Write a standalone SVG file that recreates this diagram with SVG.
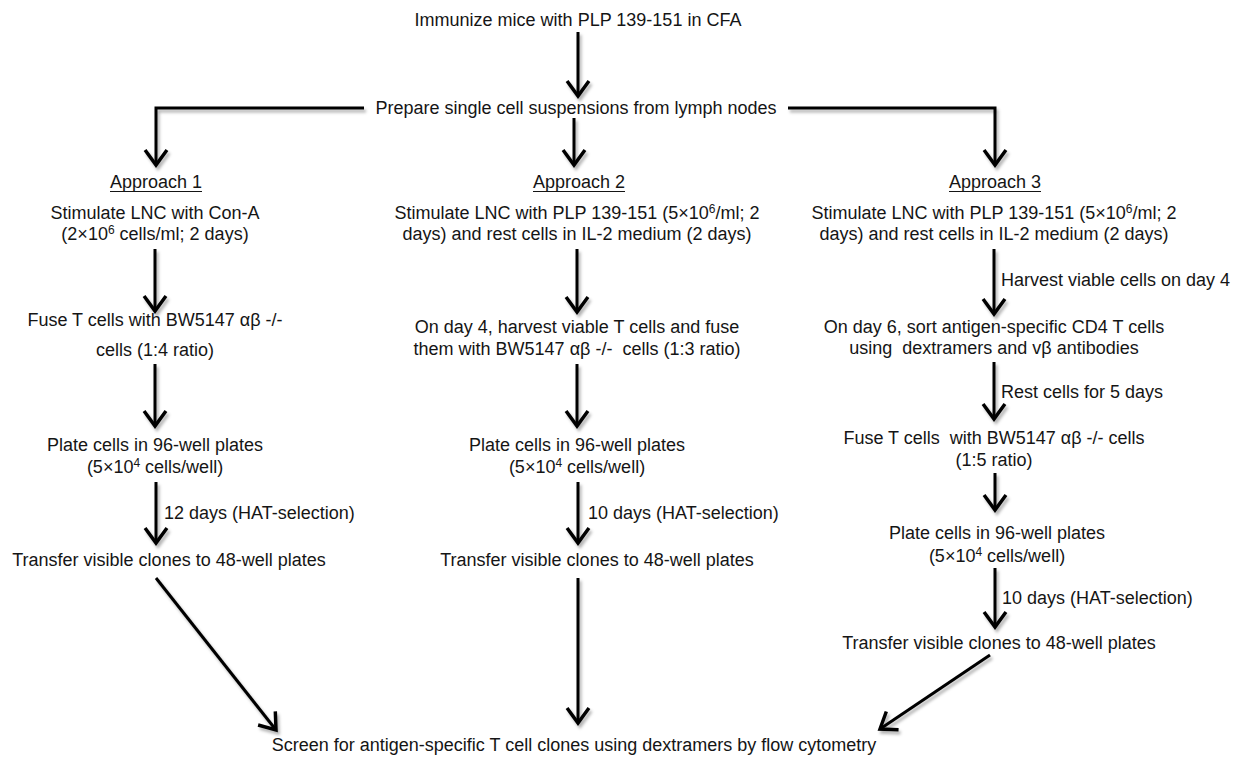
<svg xmlns="http://www.w3.org/2000/svg" width="1248" height="758" viewBox="0 0 1248 758">
<style>
text{font-family:"Liberation Sans",Arial,Helvetica,sans-serif;font-size:18px;fill:#151515;white-space:pre;}
.c{text-anchor:middle;}
.l{text-anchor:start;}
.sup{font-size:12px;}
.conn{fill:none;stroke:#000;stroke-width:3;}
.ul{stroke:#151515;stroke-width:1.2;}
</style>
<defs>
<marker id="arr" markerUnits="userSpaceOnUse" markerWidth="30" markerHeight="30" viewBox="-16 -13 20 26" refX="0" refY="0" orient="auto">
<path d="M-13,-9.5 L0,0 L-13,9.5" fill="none" stroke="#000" stroke-width="3"/>
</marker>
<filter id="sh" x="-20%" y="-20%" width="140%" height="140%">
<feDropShadow dx="2" dy="3" stdDeviation="1.8" flood-color="#000" flood-opacity="0.3"/>
</filter>
</defs>

<g id="connectors" filter="url(#sh)">
<path class="conn" d="M578,32 V96" marker-end="url(#arr)"/>
<path class="conn" d="M364,108 H156 V165" marker-end="url(#arr)"/>
<path class="conn" d="M788,108 H995 V165" marker-end="url(#arr)"/>
<path class="conn" d="M574,118 V165" marker-end="url(#arr)"/>
<path class="conn" d="M155,249 V311" marker-end="url(#arr)"/>
<path class="conn" d="M155,364 V426" marker-end="url(#arr)"/>
<path class="conn" d="M156,482 V543" marker-end="url(#arr)"/>
<path class="conn" d="M156,578 L276,730" marker-end="url(#arr)"/>
<path class="conn" d="M577,249 V312" marker-end="url(#arr)"/>
<path class="conn" d="M577,364 V426" marker-end="url(#arr)"/>
<path class="conn" d="M578,482 V543" marker-end="url(#arr)"/>
<path class="conn" d="M578,578 V723" marker-end="url(#arr)"/>
<path class="conn" d="M994,249 V314" marker-end="url(#arr)"/>
<path class="conn" d="M994,362 V419" marker-end="url(#arr)"/>
<path class="conn" d="M995,473 V510" marker-end="url(#arr)"/>
<path class="conn" d="M995,568 V627" marker-end="url(#arr)"/>
<path class="conn" d="M990,655 L880,729" marker-end="url(#arr)"/>
</g>

<g id="n-immunize"><text class="c" x="578" y="26">Immunize mice with PLP 139-151 in CFA</text></g>
<g id="n-prepare"><text class="c" x="576" y="114">Prepare single cell suspensions from lymph nodes</text></g>

<g id="n-approach1"><text class="c" x="156" y="188">Approach 1</text><line class="ul" x1="110" y1="191.5" x2="202" y2="191.5"/></g>
<g id="n-approach2"><text class="c" x="579" y="188">Approach 2</text><line class="ul" x1="533" y1="191.5" x2="625" y2="191.5"/></g>
<g id="n-approach3"><text class="c" x="995" y="188">Approach 3</text><line class="ul" x1="949" y1="191.5" x2="1041" y2="191.5"/></g>

<g id="n-a1-stim"><text class="c" x="155" y="219">Stimulate LNC with Con-A</text>
<text class="c" x="155" y="240">(2×10<tspan class="sup" dy="-6">6</tspan><tspan dy="6"> cells/ml; 2 days)</tspan></text></g>
<g id="n-a1-fuse"><text class="c" x="155" y="326">Fuse T cells with BW5147 αβ -/-</text>
<text class="c" x="155" y="356">cells (1:4 ratio)</text></g>
<g id="n-a1-plate"><text class="c" x="155" y="451">Plate cells in 96-well plates</text>
<text class="c" x="155" y="473">(5×10<tspan class="sup" dy="-6">4</tspan><tspan dy="6"> cells/well)</tspan></text></g>
<g id="n-a1-label"><text class="l" x="164" y="519">12 days (HAT-selection)</text></g>
<g id="n-a1-transfer"><text class="c" x="169" y="566">Transfer visible clones to 48-well plates</text></g>

<g id="n-a2-stim"><text class="c" x="577" y="219">Stimulate LNC with PLP 139-151 (5×10<tspan class="sup" dy="-6">6</tspan><tspan dy="6">/ml; 2</tspan></text>
<text class="c" x="577" y="240">days) and rest cells in IL-2 medium (2 days)</text></g>
<g id="n-a2-fuse"><text class="c" x="577" y="333">On day 4, harvest viable T cells and fuse</text>
<text class="c" x="577" y="355" xml:space="preserve">them with BW5147 αβ -/-  cells (1:3 ratio)</text></g>
<g id="n-a2-plate"><text class="c" x="577" y="451">Plate cells in 96-well plates</text>
<text class="c" x="577" y="473">(5×10<tspan class="sup" dy="-6">4</tspan><tspan dy="6"> cells/well)</tspan></text></g>
<g id="n-a2-label"><text class="l" x="588" y="519">10 days (HAT-selection)</text></g>
<g id="n-a2-transfer"><text class="c" x="597" y="566">Transfer visible clones to 48-well plates</text></g>

<g id="n-a3-stim"><text class="c" x="994" y="219">Stimulate LNC with PLP 139-151 (5×10<tspan class="sup" dy="-6">6</tspan><tspan dy="6">/ml; 2</tspan></text>
<text class="c" x="994" y="240">days) and rest cells in IL-2 medium (2 days)</text></g>
<g id="n-a3-label1"><text class="l" x="1001" y="286">Harvest viable cells on day 4</text></g>
<g id="n-a3-sort"><text class="c" x="994" y="333">On day 6, sort antigen-specific CD4 T cells</text>
<text class="c" x="994" y="354" xml:space="preserve">using  dextramers and vβ antibodies</text></g>
<g id="n-a3-label2"><text class="l" x="1001" y="398">Rest cells for 5 days</text></g>
<g id="n-a3-fuse"><text class="c" x="994" y="444" xml:space="preserve">Fuse T cells  with BW5147 αβ -/- cells</text>
<text class="c" x="994" y="466">(1:5 ratio)</text></g>
<g id="n-a3-plate"><text class="c" x="997" y="539">Plate cells in 96-well plates</text>
<text class="c" x="997" y="562">(5×10<tspan class="sup" dy="-6">4</tspan><tspan dy="6"> cells/well)</tspan></text></g>
<g id="n-a3-label3"><text class="l" x="1002" y="604">10 days (HAT-selection)</text></g>
<g id="n-a3-transfer"><text class="c" x="999" y="649">Transfer visible clones to 48-well plates</text></g>

<g id="n-screen"><text class="c" x="574" y="751">Screen for antigen-specific T cell clones using dextramers by flow cytometry</text></g>
</svg>
